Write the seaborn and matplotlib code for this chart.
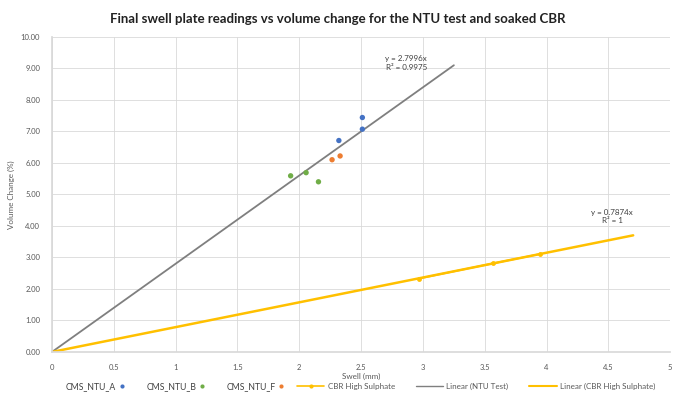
import matplotlib
matplotlib.use("Agg")
import matplotlib.pyplot as plt
import numpy as np
import pandas as pd
import seaborn as sns
from matplotlib.lines import Line2D

# swell plate readings (mm) vs volume change (%)
ntu_a_swell = [2.51, 2.51, 2.32]
ntu_a_vol = [7.44, 7.07, 6.71]
ntu_b_swell = [1.93, 2.055, 2.155]
ntu_b_vol = [5.59, 5.69, 5.40]
ntu_f_swell = [2.265, 2.33]
ntu_f_vol = [6.10, 6.22]
cbr_swell = [2.97, 3.565, 3.95]
cbr_vol = [2.33, 2.81, 3.11]

# trendline slopes as printed on the chart, and the x range they are drawn over
ntu_slope = 2.7996
cbr_slope = 0.7874
ntu_trend_x = [0.0, 3.25]
cbr_trend_x = [0.0, 4.70]

sns.set_theme(style="whitegrid")
plt.rcParams['font.family'] = ['Lato', 'DejaVu Sans']

fig = plt.figure(figsize=(6.75, 4.05), dpi=100)
ax = fig.add_axes([0.077, 0.131, 0.916, 0.778])

pts = pd.DataFrame({
    "swell": ntu_a_swell + ntu_b_swell + ntu_f_swell,
    "vol": ntu_a_vol + ntu_b_vol + ntu_f_vol,
    "series": ["CMS_NTU_A"] * 3 + ["CMS_NTU_B"] * 3 + ["CMS_NTU_F"] * 2,
})
pal = {"CMS_NTU_A": "#4472C4", "CMS_NTU_B": "#70AD47", "CMS_NTU_F": "#ED7D31"}

trend_ntu = pd.DataFrame({"x": ntu_trend_x})
trend_ntu["y"] = ntu_slope * trend_ntu["x"]
trend_cbr = pd.DataFrame({"x": cbr_trend_x})
trend_cbr["y"] = cbr_slope * trend_cbr["x"]

sns.lineplot(data=trend_ntu, x="x", y="y", ax=ax, color="#7F7F7F", lw=1.3, legend=False)
sns.lineplot(data=trend_cbr, x="x", y="y", ax=ax, color="#FFC000", lw=1.8, legend=False)
cbr = pd.DataFrame({"x": cbr_swell, "y": cbr_vol})
sns.lineplot(data=cbr, x="x", y="y", ax=ax, color="#FFC000", lw=1.3, marker="o",
             markersize=3.5, markeredgewidth=0, legend=False)
sns.scatterplot(data=pts, x="swell", y="vol", hue="series", palette=pal, ax=ax,
                s=15, edgecolor="none", legend=False, zorder=5)

ax.set_xlim(0, 5)
ax.set_ylim(0, 10)
ax.set_xticks(np.arange(0, 5.01, 0.5))
ax.set_xticklabels(["0", "0.5", "1", "1.5", "2", "2.5", "3", "3.5", "4", "4.5", "5"])
ax.set_yticks(np.arange(0, 10.01, 1))
ax.set_yticklabels([f"{v:.2f}" for v in range(11)])
ax.tick_params(labelsize=5.5, colors="#595959", pad=2.5)
ax.grid(color="#D9D9D9", lw=0.6)
for s in ax.spines.values():
    s.set_visible(False)
ax.spines["left"].set_visible(True)
ax.spines["bottom"].set_visible(True)
ax.spines["left"].set_color("#D9D9D9")
ax.spines["bottom"].set_color("#D9D9D9")

ax.set_xlabel("Swell (mm)", fontsize=5.8, color="#595959", labelpad=1.5)
ax.set_ylabel("Volume Change (%)", fontsize=5.8, color="#595959", labelpad=4)
fig.suptitle("Final swell plate readings vs volume change for the NTU test and soaked CBR",
             fontsize=9.5, fontweight="bold", color="#222222", y=0.968)

ax.text(2.865, 9.17, "y = 2.7996x\nR² = 0.9975", fontsize=5.8, color="#404040",
        ha="center", va="center", linespacing=1.25)
ax.text(4.53, 4.30, "y = 0.7874x\nR² = 1", fontsize=5.8, color="#404040",
        ha="center", va="center", linespacing=1.25)

h1 = [Line2D([], [], ls="none", marker="o", ms=3, mec="none", color=pal[k]) for k in pal]
leg1 = fig.legend(h1, list(pal), loc="center right", bbox_to_anchor=(0.422, 0.045),
                  ncol=3, frameon=False, markerfirst=False, fontsize=6.2,
                  handlelength=0.8, columnspacing=2.4, handletextpad=0.3,
                  borderaxespad=0, borderpad=0)
for t in leg1.get_texts():
    t.set_color("#404040")
h2 = [Line2D([], [], color="#FFC000", lw=1.2, marker="o", ms=3, mec="none"),
      Line2D([], [], color="#7F7F7F", lw=1.0),
      Line2D([], [], color="#FFC000", lw=1.5)]
leg2 = fig.legend(h2, ["CBR High Sulphate", "Linear (NTU Test)", "Linear (CBR High Sulphate)"],
                  loc="center left", bbox_to_anchor=(0.44, 0.045), ncol=3, frameon=False,
                  fontsize=5.8, handlelength=3.4, columnspacing=2.6, handletextpad=0.4,
                  borderaxespad=0, borderpad=0)
for t in leg2.get_texts():
    t.set_color("#595959")

fig.savefig("out.png", dpi=100)
